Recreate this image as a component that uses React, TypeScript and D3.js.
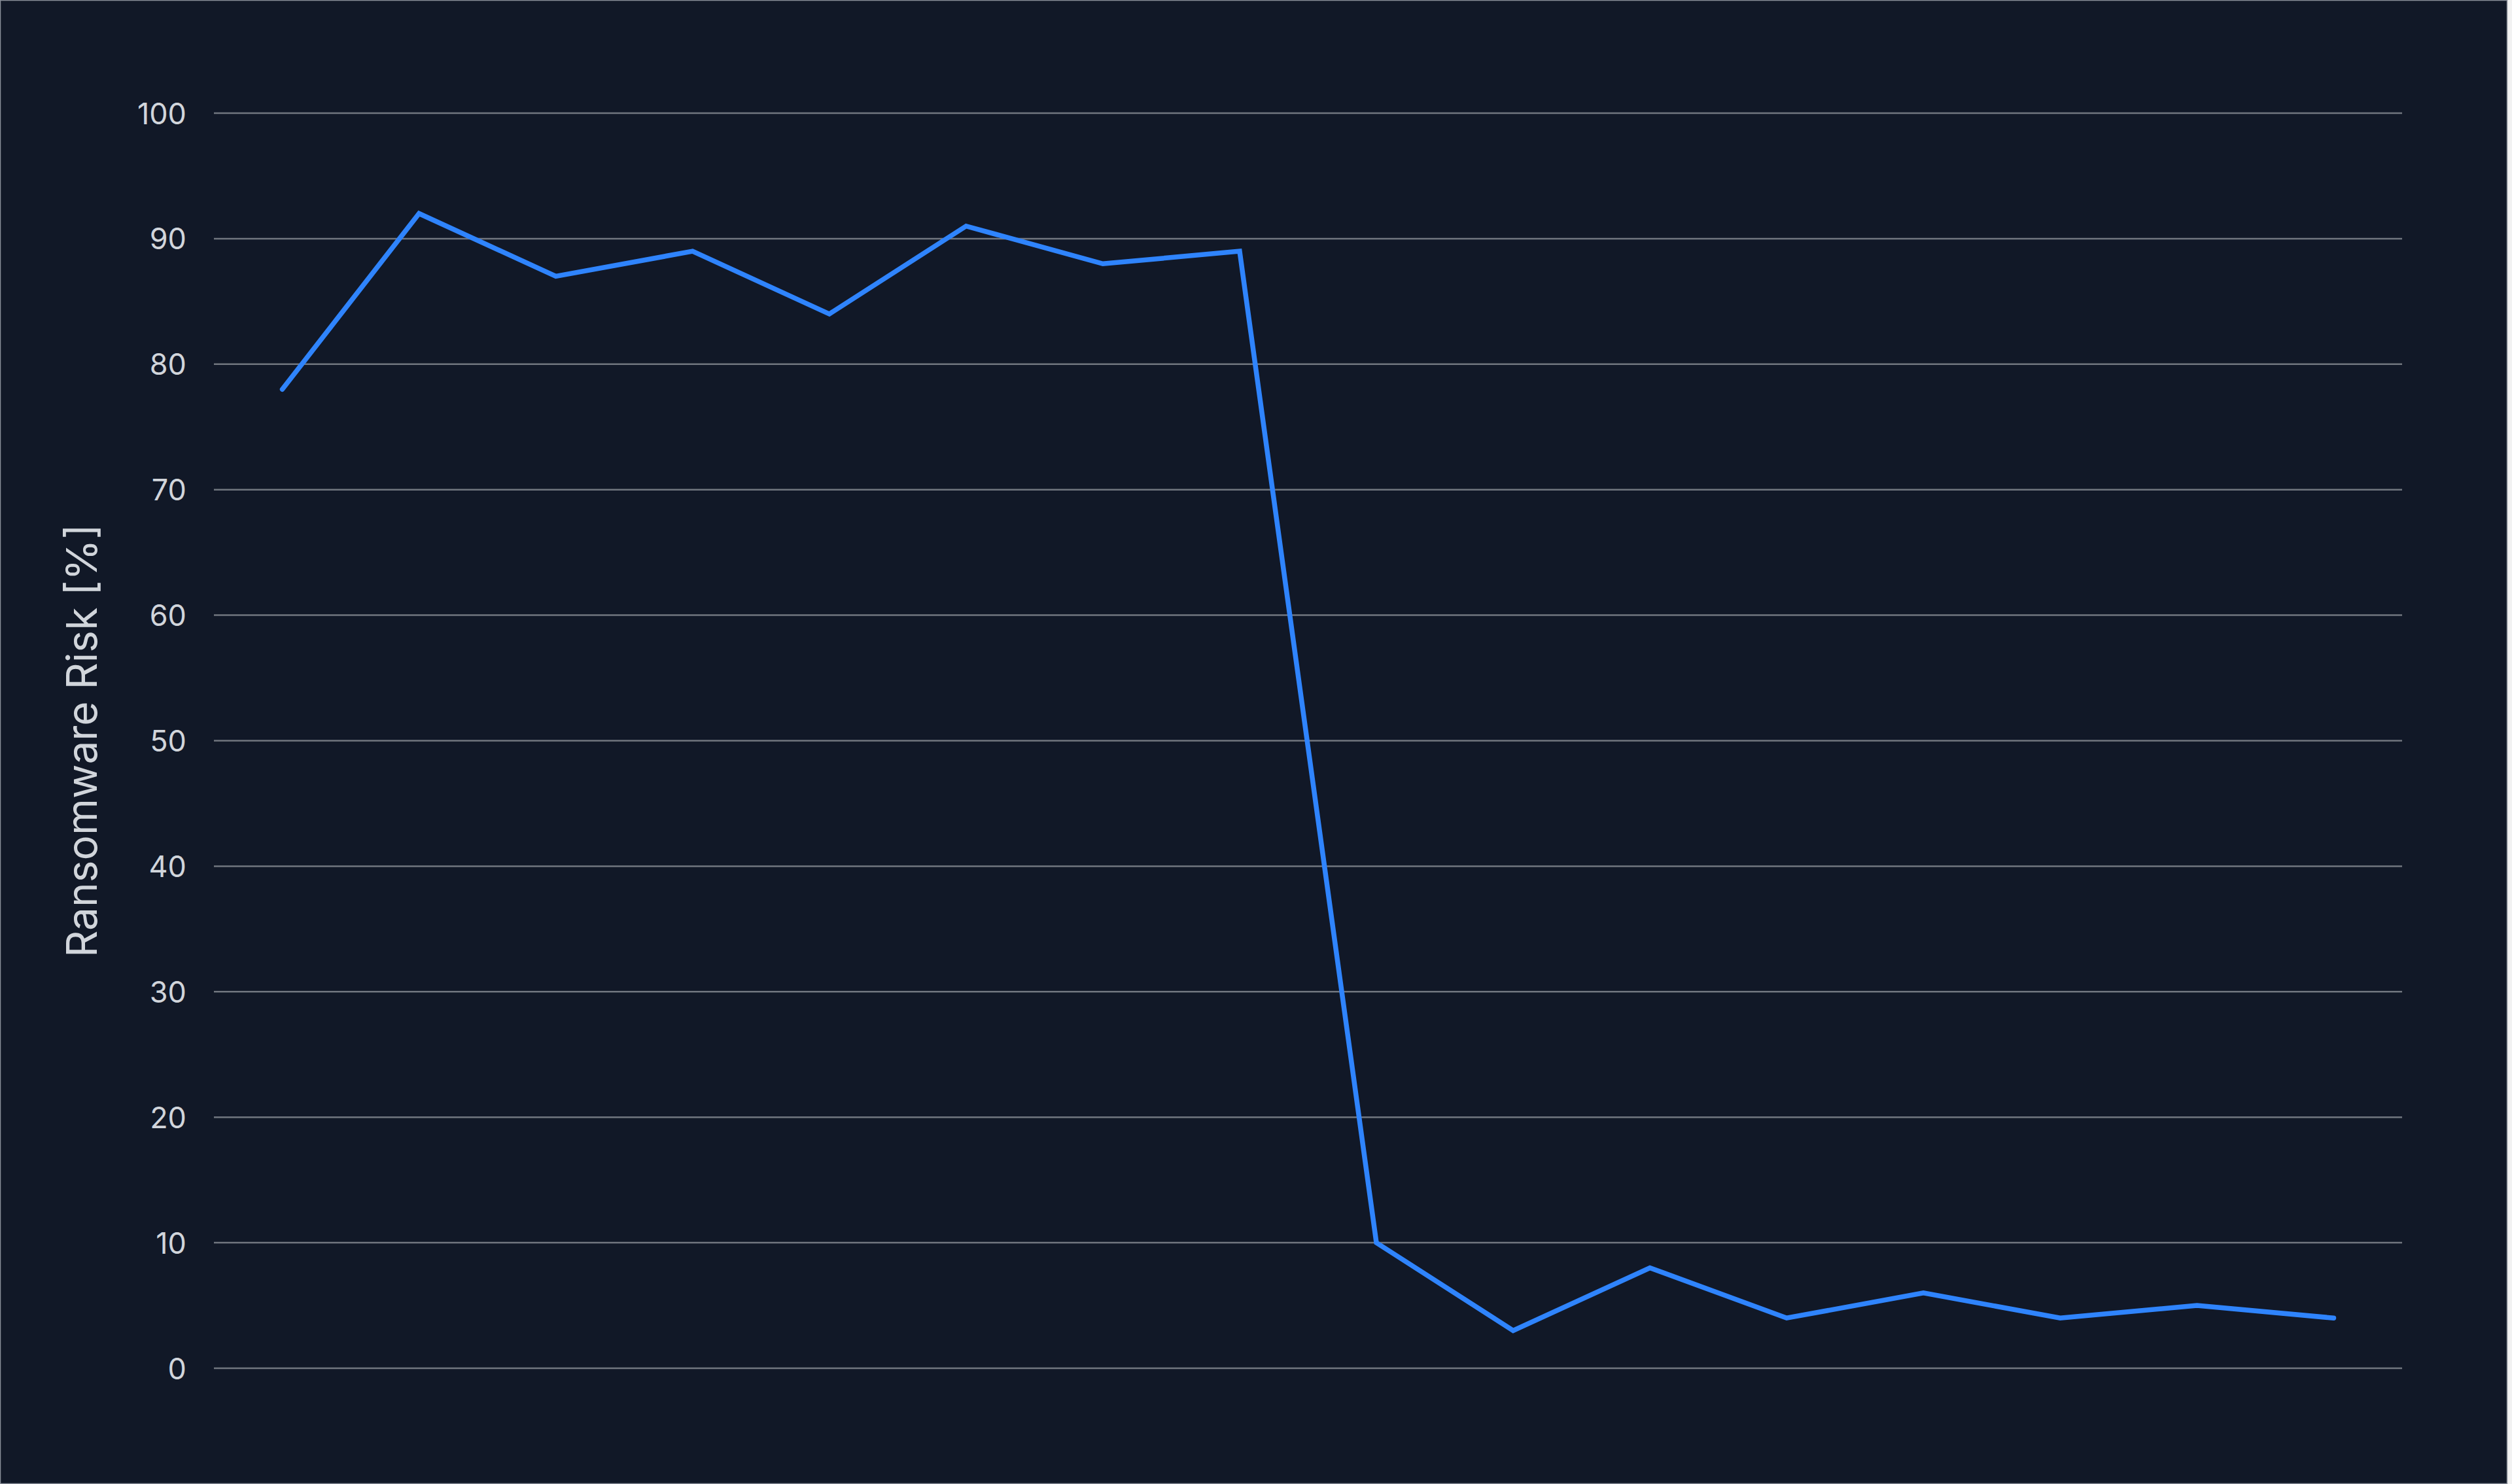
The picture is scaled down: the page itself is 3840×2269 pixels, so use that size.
import React from "react";
import * as d3 from "d3";

const categories = ["1","2","3","4","5","6","7","8","9","10","11","12","13","14","15","16"];
const riskValues = [78, 92, 87, 89, 84, 91, 88, 89, 10, 3, 8, 4, 6, 4, 5, 4];
const yTicks = [0, 10, 20, 30, 40, 50, 60, 70, 80, 90, 100];
const yLabel = "Ransomware Risk [%]";

const W = 3840;
const H = 2269;
const margin = { left: 327, right: 3672, top: 173, bottom: 2092 };

export default function App() {
  const x = d3.scalePoint<string>().domain(categories).range([margin.left, margin.right]).padding(0.5);
  const y = d3.scaleLinear().domain([0, 100]).range([margin.bottom, margin.top]);
  const line = d3
    .line<number>()
    .x((_, i) => x(categories[i]) as number)
    .y((d) => y(d));
  const font = "Inter, 'Noto Sans', sans-serif";
  return (
    <svg
      width={W}
      height={H}
      style={{ position: "absolute", left: 0, top: 0, display: "block" }}
    >
      <rect x={0} y={0} width={W} height={H} fill="#f2f2f2" />
      <rect x={0.5} y={0.5} width={3832} height={2268} fill="#111827" stroke="#8a8f99" strokeWidth={1.5} />
      {yTicks.map((t) => (
        <g key={t}>
          <line x1={margin.left} x2={margin.right} y1={y(t)} y2={y(t)} stroke="#71767f" strokeWidth={2.5} />
          <text
            x={285}
            y={y(t)}
            textAnchor="end"
            dominantBaseline="central"
            fill="#d1d5db"
            fontSize={45}
            fontFamily={font}
          >
            {t}
          </text>
        </g>
      ))}
      <text
        transform={`translate(124, ${(margin.top + margin.bottom) / 2}) rotate(-90)`}
        textAnchor="middle"
        dominantBaseline="central"
        fill="#d1d5db"
        fontSize={64}
        fontFamily={font}
      >
        {yLabel}
      </text>
      <path
        d={line(riskValues) || ""}
        fill="none"
        stroke="#2f84fd"
        strokeWidth={7.5}
        strokeLinecap="round"
        strokeLinejoin="miter"
      />
    </svg>
  );
}
